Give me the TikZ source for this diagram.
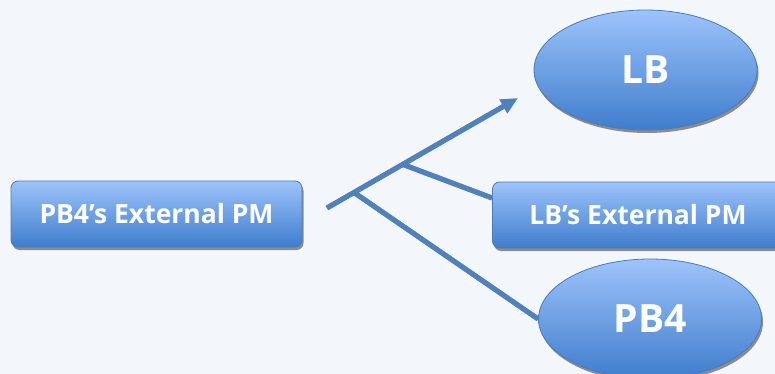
\documentclass[tikz,border=0pt]{standalone}
\usepackage{fontspec}
\setmainfont{Open Sans}
\usetikzlibrary{arrows.meta,shapes.geometric,shadows,calc}
\definecolor{bg}{HTML}{F3F6FB}
\definecolor{topc}{HTML}{9DC3FB}
\definecolor{botc}{HTML}{3F7DCC}
\definecolor{edge}{HTML}{4A7CBB}
\definecolor{linec}{HTML}{4F81BD}
\definecolor{shad}{HTML}{8C8C8C}
\begin{document}
\begin{tikzpicture}[x=1pt,y=-1pt,
  shapebase/.style={draw=edge,line width=0.8pt,top color=topc,bottom color=botc,
    text=white,font=\bfseries,inner sep=0pt,
    drop shadow={shadow xshift=1.5pt,shadow yshift=-3pt,fill=shad,opacity=1}},
  boxnode/.style={shapebase,rectangle,rounded corners=7pt,minimum width=291pt,minimum height=66pt,font=\bfseries\fontsize{26.5}{30}\selectfont},
  ellnode/.style={shapebase,ellipse,minimum width=223pt,minimum height=120pt,font=\bfseries\fontsize{39}{44}\selectfont},
  conn/.style={line width=5pt,draw=linec},
  connshadow/.style={line width=5pt,draw=shad}
]
\fill[bg] (0,0) rectangle (775,374);
\useasboundingbox (0,0) rectangle (775,374);
\clip (0,0) rectangle (775,374);

\node[boxnode] (pbx) at (156.5,214) {PB4’s External PM};
\node[boxnode] (lbx) at (638,215) {LB’s External PM};
\node[ellnode] (lb) at (645.5,70) {LB};
\node[ellnode] (pb) at (650,319) {PB4};

\coordinate (s) at (327,208);
\coordinate (e) at (518,98);
\coordinate (j1) at (403,164.5);
\coordinate (j2) at (354,192.5);

% shadows of connectors
\begin{scope}[shift={(1.5,3)}]
\draw[connshadow] (s) -- ($(s)!0.93!(e)$);
\draw[connshadow] (j1) -- ([yshift=17pt]lbx.west);
\draw[connshadow] (j2) -- (pb.west);
\end{scope}
\draw[conn] (j1) -- ([yshift=17pt]lbx.west);
\draw[conn] (j2) -- (pb.west);
\draw[conn,-{Triangle[length=17pt,width=15pt]}] (s) -- (e);
\end{tikzpicture}
\end{document}
